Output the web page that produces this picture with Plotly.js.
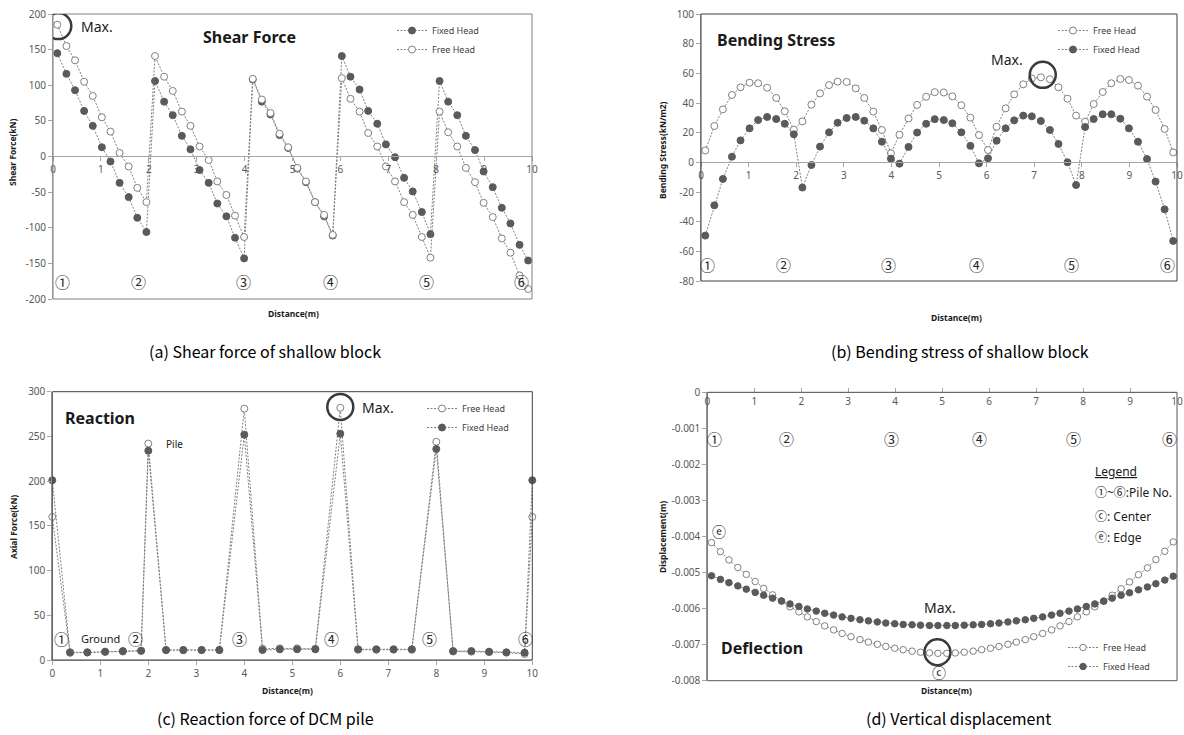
<!DOCTYPE html>
<html>
<head>
<meta charset="utf-8">
<script src="https://cdn.plot.ly/plotly-3.0.1.min.js"></script>
<style>html,body{margin:0;padding:0;background:#fff;}#chart{width:1184px;height:735px;}</style>
</head>
<body>
<div id="chart"></div>
<script>
// ---------- DATA ----------
const distance = [0.09,0.28,0.46,0.65,0.83,1.02,1.20,1.39,1.58,1.76,1.95,2.13,2.32,2.50,2.69,2.87,3.06,3.25,3.43,3.62,3.80,3.99,4.17,4.36,4.54,4.73,4.91,5.10,5.28,5.47,5.66,5.84,6.03,6.21,6.40,6.58,6.77,6.95,7.14,7.33,7.51,7.70,7.88,8.07,8.25,8.44,8.62,8.81,8.99,9.18,9.37,9.55,9.74,9.92];

const shearFixed = [145,116,93,64,43,13,-7,-37,-57,-86,-106, 106,77,58,29,10,-19,-37,-66,-84,-114,-143, 108,77,59,30,12,-17,-36,-64,-84,-111, 141,112,94,64,46,17,-1,-30,-49,-78,-109, 106,77,58,29,9,-21,-43,-72,-94,-124,-146];
const shearFree = [185,155,135,105,85,55,35,5,-14,-44,-64, 141,112,92,63,43,14,-5,-35,-54,-83,-113, 109,80,61,32,13,-16,-35,-64,-82,-110, 110,81,63,33,14,-14,-35,-64,-82,-113,-142, 63,34,14,-16,-36,-65,-85,-115,-135,-167,-186];

const bendFree = [8,24.5,35.7,45.4,50.6,53.7,53.3,50.3,43.4,34.4,22, 27.6,38.9,46.5,52.1,54.4,54.2,49.9,43.4,34.2,21.8,6.1, 18.6,29.6,38.7,44.2,47.3,47.1,44.5,38.5,30.1,18.4, 8.3,24,36.4,45.8,52.6,56.6,57.3,56,50.6,42.9,31.5, 27.4,39.3,47.4,53.3,56.2,55.5,51.7,44.3,35.3,22.5,6.7];
const bendFixed = [-49.4,-29,-11.2,3.8,14.8,22.9,28.5,30.6,29.2,26,18.9, -17,-1.8,10.6,20.2,26.7,29.9,30.6,28.1,22.9,13.9,2.5, -0.9,10.4,20.1,26,29.1,28.5,26.3,20.2,11.1,-0.7, 2.7,14.6,22.9,28.3,31.5,31,27.9,21.8,12.4,0,-15.3, 23.8,29.2,32.4,32.4,29.4,22.9,13.9,2.2,-13,-31.7,-53];

const reactDistance = [0,0.37,0.73,1.10,1.47,1.85,2.00,2.37,2.73,3.11,3.48,4.00,4.38,4.74,5.10,5.48,6.00,6.37,6.75,7.11,7.49,8.00,8.35,8.73,9.10,9.46,9.84,10.00];
const reactFree = [160,8,8.3,9,9.5,10.2,242,11,11,11,11,281,12.5,13,13,12.5,282,11.5,11.5,11.5,11.5,244,9.5,9.3,8.8,8.2,6.7,160];
const reactFixed = [201,8.6,8.6,9.3,10,10.4,234,11.2,11.2,11.2,11.2,252,11.2,12,12,12,253,12,12,12,12,236,10,10,9.3,8.6,8.2,201];

const deflFree = [-0.00417,-0.00442,-0.00465,-0.00486,-0.00505,-0.00525,-0.00544,-0.00562,-0.00579,-0.00595,-0.00609,-0.00623,-0.00636,-0.00648,-0.00659,-0.00669,-0.00678,-0.00686,-0.00693,-0.00699,-0.00705,-0.00710,-0.00714,-0.00718,-0.00721,-0.00723,-0.00724,
  -0.00724,-0.00723,-0.00721,-0.00718,-0.00714,-0.00710,-0.00705,-0.00699,-0.00693,-0.00686,-0.00678,-0.00669,-0.00659,-0.00648,-0.00636,-0.00623,-0.00609,-0.00595,-0.00580,-0.00563,-0.00545,-0.00526,-0.00506,-0.00487,-0.00464,-0.00441,-0.00415];
const deflFixed = [-0.00509,-0.00519,-0.00528,-0.00537,-0.00546,-0.00555,-0.00563,-0.00571,-0.00579,-0.00587,-0.00594,-0.00601,-0.00607,-0.00613,-0.00618,-0.00623,-0.00627,-0.00631,-0.00634,-0.00637,-0.00640,-0.00642,-0.00644,-0.00645,-0.00646,-0.00647,-0.00647,
  -0.00647,-0.00647,-0.00646,-0.00645,-0.00644,-0.00642,-0.00640,-0.00637,-0.00634,-0.00631,-0.00627,-0.00623,-0.00618,-0.00613,-0.00607,-0.00601,-0.00594,-0.00587,-0.00579,-0.00571,-0.00563,-0.00556,-0.00548,-0.00540,-0.00531,-0.00521,-0.00510];

const pileLabels = ['①','②','③','④','⑤','⑥'];
const xTicks = [0,1,2,3,4,5,6,7,8,9,10];
const xTickText = ['0','1','2','3','4','5','6','7','8','9','10'];
const shearTicks = [-200,-150,-100,-50,0,50,100,150,200];
const shearTickText = ['-200','-150','-100','-50','0','50','100','150','200'];
const bendTicks = [-80,-60,-40,-20,0,20,40,60,80,100];
const bendTickText = ['-80','-60','-40','-20','0','20','40','60','80','100'];
const reactTicks = [0,50,100,150,200,250,300];
const reactTickText = ['0','50','100','150','200','250','300'];
const deflTicks = [-0.008,-0.007,-0.006,-0.005,-0.004,-0.003,-0.002,-0.001,0];
const deflTickText = ['-0.008','-0.007','-0.006','-0.005','-0.004','-0.003','-0.002','-0.001','0'];

// ---------- HELPERS ----------
const W = 1184, H = 735;
const px = v => v / W;
const py = v => 1 - v / H;
const FONT = 'Noto Sans, "Noto Sans CJK KR", sans-serif';
const CJK = '"Noto Sans CJK KR", "Noto Sans", sans-serif';

function tr(x, y, name, xa, ya, filled, legend, size) {
  return {
    type: 'scatter', mode: 'lines+markers', x: x, y: y, name: name,
    xaxis: xa, yaxis: ya, legend: legend, cliponaxis: false,
    line: {color: '#808080', width: 1, dash: '2px,1.5px'},
    marker: {size: size, symbol: 'circle',
      color: filled ? '#5a5a5a' : '#ffffff',
      line: {color: filled ? '#5a5a5a' : '#808080', width: 1}}
  };
}

const traces = [
  tr(distance, shearFixed, 'Fixed Head', 'x', 'y', true, 'legend', 7),
  tr(distance, shearFree, 'Free Head', 'x', 'y', false, 'legend', 7),
  tr(distance, bendFree, 'Free Head', 'x2', 'y2', false, 'legend2', 7),
  tr(distance, bendFixed, 'Fixed Head', 'x2', 'y2', true, 'legend2', 7),
  tr(reactDistance, reactFree, 'Free Head', 'x3', 'y3', false, 'legend3', 7),
  tr(reactDistance, reactFixed, 'Fixed Head', 'x3', 'y3', true, 'legend3', 7),
  tr(distance, deflFree, 'Free Head', 'x4', 'y4', false, 'legend4', 6.5),
  tr(distance, deflFixed, 'Fixed Head', 'x4', 'y4', true, 'legend4', 6.5)
];

const tickFont = {family: FONT, size: 10, color: '#595959'};
function xAx(dom, extra) {
  return Object.assign({domain: dom, range: [0, 10], tickvals: xTicks, ticktext: xTickText,
    showline: true, linecolor: '#a6a6a6', linewidth: 1, ticks: 'outside', ticklen: 4,
    tickcolor: '#a6a6a6', tickfont: tickFont, showgrid: false, zeroline: false, fixedrange: true,
    ticklabeloverflow: 'allow'}, extra);
}
function yAx(dom, range, vals, txt, anchor) {
  return {domain: dom, range: range, tickvals: vals, ticktext: txt, anchor: anchor,
    showline: true, linecolor: '#a6a6a6', linewidth: 1, ticks: 'outside', ticklen: 4,
    tickcolor: '#a6a6a6', tickfont: tickFont, showgrid: false, zeroline: false, fixedrange: true};
}

const ann = [];
function A(text, x, y, size, opts) {
  ann.push(Object.assign({text: text, xref: 'paper', yref: 'paper', x: px(x), y: py(y),
    showarrow: false, xanchor: 'center', yanchor: 'middle',
    font: {family: FONT, size: size, color: '#1a1a1a'}}, opts || {}));
}

// panel titles
A('<b>Shear Force</b>', 249, 37, 16);
A('<b>Bending Stress</b>', 776, 40, 16);
A('<b>Reaction</b>', 100, 418, 16);
A('<b>Deflection</b>', 762, 648, 16);
// Max.
A('Max.', 97, 27, 14);
A('Max.', 1007, 59, 14);
A('Max.', 378, 407, 14);
A('Max.', 940, 607, 14);
// misc
A('Pile', 174, 444, 10);
A('Ground', 100, 638, 11);
A('ⓒ', 939, 672, 14, {font: {family: CJK, size: 14, color: '#1a1a1a'}});
A('ⓔ', 719, 531, 14, {font: {family: CJK, size: 14, color: '#1a1a1a'}});
// deflection legend text
const legOpts = {xanchor: 'left', font: {family: FONT, size: 12, color: '#1a1a1a'}};
A('<u>Legend</u>', 1093, 471, 12, legOpts);
A('①~⑥:Pile No.', 1093, 492, 12, legOpts);
A('ⓒ: Center', 1093, 516, 12, legOpts);
A('ⓔ: Edge', 1093, 537, 12, legOpts);

// pile labels
const pileA = [[62.7,282],[138.3,282],[243.7,282],[330,282],[426.7,282],[521.7,282]];
const pileB = [[707.3,265],[783.3,265],[888.3,265],[976.7,265],[1071.7,265],[1167,265]];
const pileC = [[61.7,638],[135,638],[239.3,638],[331.7,638],[429.3,638],[525,638]];
const pileD = [[714.3,438],[786.7,438],[891.7,438],[979.3,438],[1073.3,438],[1169,438]];
[pileA, pileB, pileC, pileD].forEach(set => set.forEach((p, i) =>
  A(pileLabels[i], p[0], p[1], 15, {font: {family: CJK, size: 15, color: '#262626'}})));

// axis titles
const axT = {font: {family: FONT, size: 8.5, color: '#1a1a1a'}};
A('<b>Shear Force(kN)</b>', 13, 152, 8.5, Object.assign({textangle: -90}, axT));
A('<b>Bending Stress(kN/m2)</b>', 662, 150, 8.5, Object.assign({textangle: -90}, axT));
A('<b>Axial Force(kN)</b>', 13, 527, 8.5, Object.assign({textangle: -90}, axT));
A('<b>Displacement(m)</b>', 662, 537, 8.5, Object.assign({textangle: -90}, axT));
A('<b>Distance(m)</b>', 293, 313, 8.5, axT);
A('<b>Distance(m)</b>', 956, 317, 8.5, axT);
A('<b>Distance(m)</b>', 287, 690, 8.5, axT);
A('<b>Distance(m)</b>', 946, 690, 8.5, axT);

// captions
const capOpts = {font: {family: CJK, size: 16, color: '#000'}};
A('(a) Shear force of shallow block', 265, 351, 16, capOpts);
A('(b) Bending stress of shallow block', 960, 351, 16, capOpts);
A('(c) Reaction force of DCM pile', 265, 718, 16, capOpts);
A('(d) Vertical displacement', 958, 718, 16, capOpts);

function frame(xa, ya, color) {
  return {type: 'rect', xref: xa + ' domain', yref: ya + ' domain', x0: 0, x1: 1, y0: 0, y1: 1,
    line: {color: color, width: 1}, fillcolor: 'rgba(0,0,0,0)'};
}
function maxCircle(xa, ya, cx, cy, r) {
  return {type: 'circle', xref: xa, yref: ya, xsizemode: 'pixel', ysizemode: 'pixel',
    xanchor: cx, yanchor: cy, x0: -r, x1: r, y0: -r, y1: r,
    line: {color: '#3a3a3a', width: 2.5}, fillcolor: 'rgba(0,0,0,0)'};
}

const legBase = {xanchor: 'left', yanchor: 'top', bgcolor: 'rgba(0,0,0,0)', borderwidth: 0,
  font: {family: FONT, size: 9, color: '#404040'}, tracegroupgap: 0, itemwidth: 30};

const layout = {
  width: W, height: H, margin: {l: 0, r: 0, t: 0, b: 0},
  paper_bgcolor: '#ffffff', plot_bgcolor: '#ffffff', showlegend: true,
  font: {family: FONT},
  xaxis: xAx([px(53), px(532)], {anchor: 'free', position: py(156.3)}),
  yaxis: yAx([py(299), py(14)], [-200, 200], shearTicks, shearTickText, 'x'),
  xaxis2: xAx([px(701), px(1177)], {anchor: 'free', position: py(162.3)}),
  yaxis2: yAx([py(281), py(14)], [-80, 100], bendTicks, bendTickText, 'x2'),
  xaxis3: xAx([px(52.3), px(532.3)], {anchor: 'y3'}),
  yaxis3: yAx([py(660), py(391.7)], [0, 300], reactTicks, reactTickText, 'x3'),
  xaxis4: xAx([px(707.3), px(1177)], {anchor: 'free', position: py(392.3), side: 'bottom', ticks: 'inside'}),
  yaxis4: yAx([py(680.7), py(392.3)], [-0.008, 0], deflTicks, deflTickText, 'x4'),
  legend: Object.assign({x: px(392), y: py(16)}, legBase),
  legend2: Object.assign({x: px(1053), y: py(16)}, legBase),
  legend3: Object.assign({x: px(422), y: py(394)}, legBase),
  legend4: Object.assign({x: px(1063), y: py(633)}, legBase),
  shapes: [
    frame('x', 'y', '#808080'), frame('x2', 'y2', '#404040'),
    frame('x3', 'y3', '#404040'), frame('x4', 'y4', '#595959'),
    maxCircle('x', 'y', 0.11, 183, 13),
    maxCircle('x2', 'y2', 7.18, 59, 13),
    maxCircle('x3', 'y3', 6.0, 283, 13),
    maxCircle('x4', 'y4', 4.9, -0.00721, 13)
  ],
  annotations: ann
};

Plotly.newPlot('chart', traces, layout, {displayModeBar: false, staticPlot: true});
</script>
</body>
</html>
